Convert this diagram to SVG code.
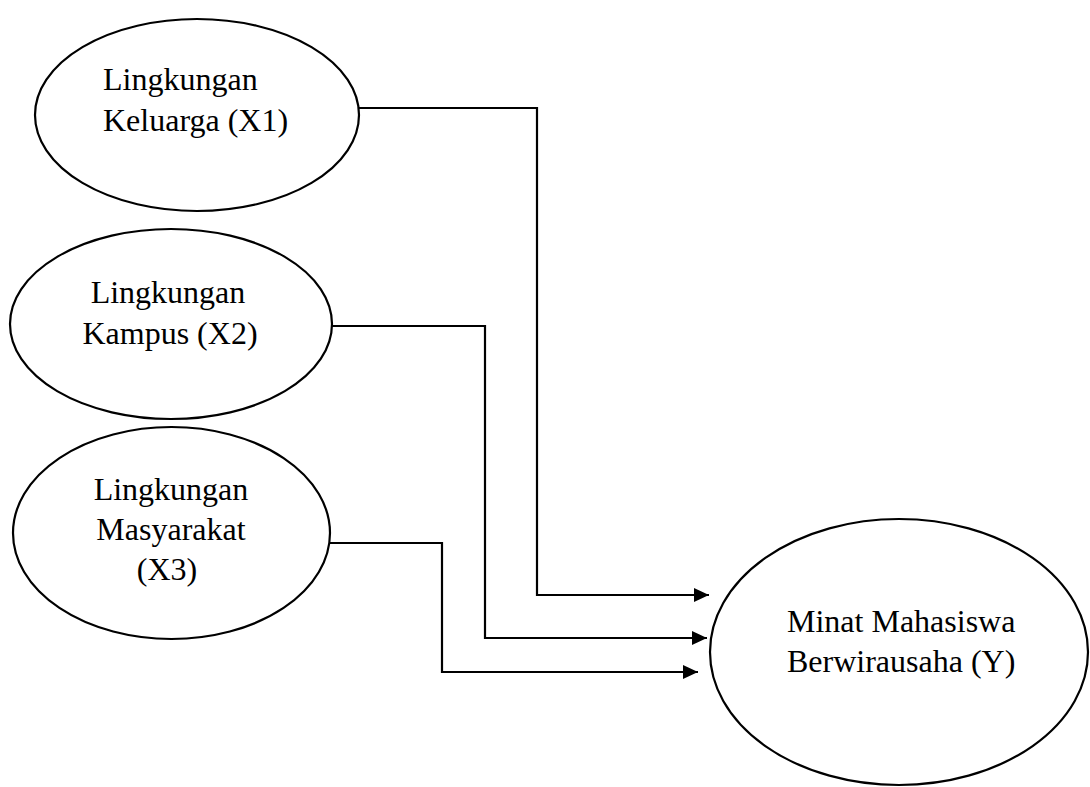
<svg xmlns="http://www.w3.org/2000/svg" width="1090" height="787" viewBox="0 0 1090 787">
<style>
.node ellipse{fill:#fff;stroke:#000;stroke-width:2.2}
.node text{font-family:"Liberation Serif","Times New Roman",serif;font-size:32px;fill:#000}
.edge{fill:none;stroke:#000;stroke-width:2.2}
</style>
<defs>
<marker id="arr" markerWidth="15" markerHeight="14" refX="15" refY="7" orient="auto" markerUnits="userSpaceOnUse">
<path d="M0,0 L15,7 L0,14 Z" fill="#000"/>
</marker>
</defs>
<rect width="1090" height="787" fill="#fff"/>
<g id="connectors">
<path class="edge" d="M359,108 H537 V595 H709" marker-end="url(#arr)"/>
<path class="edge" d="M332,326 H485 V638 H707" marker-end="url(#arr)"/>
<path class="edge" d="M330,543 H442 V672 H698" marker-end="url(#arr)"/>
</g>
<g id="x1" class="node">
<ellipse cx="197" cy="115" rx="162" ry="96"/>
<text x="103" y="90">Lingkungan</text>
<text x="103" y="131">Keluarga (X1)</text>
</g>
<g id="x2" class="node">
<ellipse cx="171" cy="324" rx="161" ry="95"/>
<text x="168" y="303" text-anchor="middle">Lingkungan</text>
<text x="170" y="344" text-anchor="middle">Kampus (X2)</text>
</g>
<g id="x3" class="node">
<ellipse cx="171.5" cy="533" rx="158.5" ry="106"/>
<text x="171" y="500" text-anchor="middle">Lingkungan</text>
<text x="171" y="540" text-anchor="middle">Masyarakat</text>
<text x="167" y="580" text-anchor="middle">(X3)</text>
</g>
<g id="y" class="node">
<ellipse cx="899" cy="652" rx="189" ry="133"/>
<text x="787" y="632">Minat Mahasiswa</text>
<text x="787" y="672">Berwirausaha (Y)</text>
</g>
</svg>
